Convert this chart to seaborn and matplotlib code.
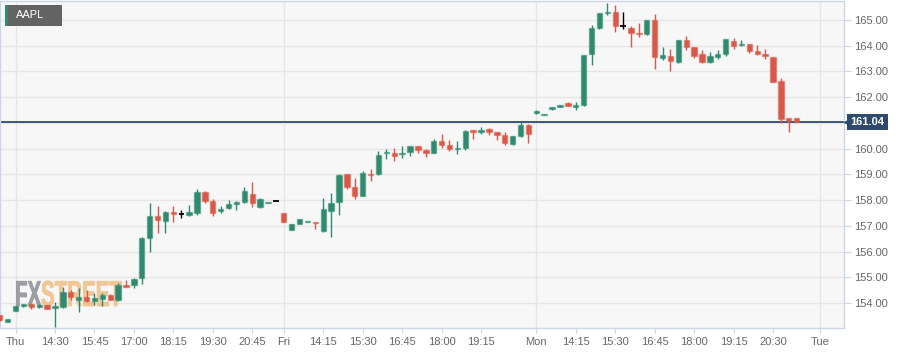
"""AAPL 15-minute candles, Thu to Mon, with last-price marker."""
import numpy as np
import pandas as pd
import matplotlib
matplotlib.use('Agg')
import matplotlib.pyplot as plt
import seaborn as sns
from matplotlib.patches import Rectangle, PathPatch
from matplotlib.textpath import TextPath
from matplotlib.font_manager import FontProperties
from matplotlib.transforms import Affine2D, blended_transform_factory

symbol = 'AAPL'
last_price = 161.04

# OHLC per 15-min bar (ordinal axis, one slot per bar)
opens = [153.53, 153.28, 153.70, 153.88, 153.96, 153.83, 153.92, 153.80, 153.86, 154.42,
         154.12, 154.22, 154.09, 154.16, 154.31, 154.12, 154.69, 154.70, 154.96, 156.52,
         157.38, 157.20, 157.53, 157.45, 157.43, 157.49, 158.32, 157.97, 157.59, 157.68,
         157.84, 157.93, 158.25, 157.72, 157.88, 157.97, 157.49, 156.84, 157.07, 157.14,
         157.15, 156.79, 157.58, 157.94, 159.00, 158.50, 158.17, 159.01, 159.00, 159.82,
         159.85, 159.79, 159.86, 160.09, 159.94, 159.84, 160.30, 160.14, 159.97, 160.01,
         160.71, 160.66, 160.75, 160.64, 160.53, 160.19, 160.49, 160.92, 161.37, 161.32,
         161.53, 161.63, 161.77, 161.63, 161.68, 163.67, 164.70, 165.27, 165.30, 164.75,
         164.68, 164.49, 164.44, 165.00, 163.51, 163.61, 163.36, 164.21, 163.95, 163.68,
         163.38, 163.55, 163.68, 164.18, 164.02, 164.05, 163.80, 163.69, 163.56, 162.62,
         161.18, 161.20]
highs = [153.55, 153.38, 153.90, 153.97, 153.98, 153.95, 153.94, 154.04, 154.61, 154.51,
         154.57, 154.51, 154.38, 154.38, 154.35, 154.79, 154.89, 154.98, 156.56, 157.88,
         157.77, 157.58, 157.77, 157.62, 157.81, 158.42, 158.35, 158.03, 157.77, 158.00,
         157.95, 158.52, 158.70, 158.07, 157.92, 157.97, 157.50, 157.07, 157.28, 157.17,
         157.16, 158.07, 158.26, 159.00, 159.02, 158.85, 159.14, 159.20, 159.91, 159.98,
         160.01, 160.11, 160.11, 160.10, 159.99, 160.36, 160.57, 160.34, 160.29, 160.72,
         160.73, 160.85, 160.79, 160.66, 160.64, 160.50, 161.02, 160.94, 161.49, 161.35,
         161.62, 161.71, 161.83, 161.81, 163.66, 164.81, 165.27, 165.67, 165.58, 165.32,
         164.77, 164.87, 165.02, 165.22, 163.95, 163.86, 164.23, 164.38, 163.97, 163.83,
         163.74, 163.83, 164.27, 164.29, 164.22, 164.07, 164.03, 163.87, 163.58, 162.73,
         161.20, 161.21]
lows = [153.30, 153.27, 153.68, 153.86, 153.78, 153.82, 153.75, 153.08, 153.80, 154.12,
        153.66, 154.05, 153.92, 153.88, 154.10, 154.08, 154.62, 154.57, 154.74, 155.99,
        156.71, 156.71, 157.16, 157.29, 157.40, 157.42, 157.88, 157.39, 157.49, 157.64,
        157.62, 157.88, 157.72, 157.70, 157.88, 157.97, 157.15, 156.83, 157.06, 157.14,
        156.88, 156.77, 156.55, 157.42, 158.45, 158.06, 158.15, 158.74, 158.98, 159.59,
        159.53, 159.63, 159.71, 159.82, 159.69, 159.82, 160.01, 159.92, 159.78, 159.95,
        160.36, 160.56, 160.52, 160.34, 160.15, 160.13, 160.47, 160.23, 161.36, 161.32,
        161.52, 161.62, 161.65, 161.50, 161.66, 163.25, 164.65, 165.18, 164.55, 164.64,
        163.96, 164.35, 164.42, 163.08, 163.43, 163.03, 163.34, 163.82, 163.51, 163.34,
        163.34, 163.50, 163.61, 163.89, 164.01, 163.70, 163.66, 163.47, 162.58, 161.01,
        160.64, 161.03]
closes = [153.34, 153.37, 153.88, 153.96, 153.83, 153.93, 153.77, 153.90, 154.42, 154.22,
          154.22, 154.09, 154.18, 154.31, 154.12, 154.69, 154.64, 154.95, 156.52, 157.38,
          157.23, 157.54, 157.45, 157.45, 157.55, 158.33, 157.97, 157.49, 157.65, 157.84,
          157.93, 158.35, 157.90, 158.05, 157.92, 157.97, 157.16, 157.06, 157.27, 157.17,
          157.10, 157.64, 157.90, 158.96, 158.50, 158.16, 159.04, 158.99, 159.74, 159.85,
          159.73, 159.85, 160.10, 159.95, 159.84, 160.29, 160.14, 159.97, 160.01, 160.70,
          160.65, 160.72, 160.64, 160.52, 160.21, 160.49, 160.91, 160.58, 161.48, 161.35,
          161.61, 161.70, 161.66, 161.70, 163.64, 164.68, 165.26, 165.30, 164.78, 164.75,
          164.51, 164.44, 165.00, 163.55, 163.63, 163.39, 164.21, 163.96, 163.60, 163.38,
          163.59, 163.69, 164.25, 164.00, 164.05, 163.81, 163.67, 163.61, 162.59, 161.14,
          161.09, 161.04]

tick_pos = [2, 7, 12, 17, 22, 27, 32, 36, 41, 46, 51, 56, 61, 68, 73, 78, 83, 88, 93, 98, 104]
tick_labels = ['Thu', '14:30', '15:45', '17:00', '18:15', '19:30', '20:45', 'Fri', '14:15',
               '15:30', '16:45', '18:00', '19:15', 'Mon', '14:15', '15:30', '16:45', '18:00',
               '19:15', '20:30', 'Tue']
day_names = ['Thu', 'Fri', 'Mon', 'Tue']
price_ticks = list(range(154, 166))

df = pd.DataFrame({'open': opens, 'high': highs, 'low': lows, 'close': closes})
df['idx'] = np.arange(len(df))

UP = '#2f8a6f'
DOWN = '#da5848'
NAVY = '#2f4a6b'
AXIS = '#ccd6eb'
W, H = 903, 354

sns.set_theme(style='white')
plt.rcParams['font.family'] = ['Liberation Sans', 'DejaVu Sans']

fig = plt.figure(figsize=(W / 100, H / 100), dpi=100)
ax = fig.add_axes([0, 26.5 / H, 844 / W, 326.5 / H])
ax.set_facecolor('#f7f7f7')

# candles
body_w = 0.68
min_h = 0.035
for r in df.itertuples():
    if r.close > r.open:
        col = UP
    elif r.close < r.open:
        col = DOWN
    else:
        col = 'black'
    ax.vlines(r.idx, r.low, r.high, color=col, lw=1.0, zorder=3)
    if col == 'black':
        ax.hlines(r.open, r.idx - body_w / 2, r.idx + body_w / 2, color=col, lw=1.3, zorder=4)
        continue
    lo, hi = min(r.open, r.close), max(r.open, r.close)
    if hi - lo < min_h:
        mid = (hi + lo) / 2
        lo, hi = mid - min_h / 2, mid + min_h / 2
    ax.bar(r.idx, hi - lo, bottom=lo, width=body_w, color=col,
           edgecolor=matplotlib.colors.to_rgba(col, 0.45), linewidth=1.0, zorder=4)

# last price line + label
ax.axhline(last_price, color=NAVY, lw=1.3, zorder=2.5)
trans = blended_transform_factory(ax.transAxes, ax.transData)
ax.text(867.5 / 844, last_price, f'{last_price:.2f}', transform=trans, ha='center', va='center',
        color='white', fontsize=8, fontweight='bold', clip_on=False, zorder=10,
        bbox=dict(boxstyle='square,pad=0.3', fc=NAVY, ec='none'))
ax.plot([846.5 / 844], [last_price], marker='<', ms=5, color=NAVY, transform=trans,
        clip_on=False, zorder=10)

# grid
ax.set_axisbelow(True)
ax.grid(axis='y', color='#e6e6e6', lw=1)
ax.grid(axis='x', visible=False)
for name in day_names:
    ax.axvline(tick_pos[tick_labels.index(name)], color='#e6e6e6', lw=1, zorder=0.6)

ax.set_xlim(0.03, 107.0)
ax.set_ylim(153.05, 165.74)

ax.set_xticks(tick_pos)
ax.set_xticklabels(tick_labels)
ax.yaxis.tick_right()
ax.set_yticks(price_ticks)
ax.set_yticklabels(['' if v == 161 else f'{v:.2f}' for v in price_ticks])
ax.tick_params(axis='x', bottom=True, length=3.6, width=0.8, color=AXIS,
               labelsize=8, labelcolor='#666666', pad=3)
ax.tick_params(axis='y', right=True, left=False, length=5, width=0.8, color=AXIS,
               labelsize=8, labelcolor='#666666', pad=2)
for s in ax.spines.values():
    s.set_color(AXIS)
    s.set_linewidth(1)

# watermark
fp = FontProperties(family='Liberation Sans', weight='bold')
for txt, x0, col in [('FX', 15, '#8f9098'), ('STREET', 41, '#f0c084')]:
    tp = TextPath((0, 0), txt, size=36, prop=fp)
    wm = PathPatch(tp, transform=Affine2D().scale(0.57, 1.0).translate(x0, H - 306),
                   fc=col, ec=col, lw=0.6, alpha=0.85, zorder=1)
    ax.add_artist(wm)

# symbol tag
fig.add_artist(Rectangle((5 / W, 1 - 26 / H), 57 / W, 21 / H, transform=fig.transFigure,
                         fc='#636363', ec='none', zorder=5))
fig.add_artist(Rectangle((5 / W, 1 - 26 / H), 2.5 / W, 21 / H, transform=fig.transFigure,
                         fc=UP, ec='none', zorder=6))
fig.text(16 / W, 1 - 15.5 / H, symbol, color='white', fontsize=8, ha='left', va='center', zorder=7)

plt.savefig('out.png', dpi=100)
plt.close()
